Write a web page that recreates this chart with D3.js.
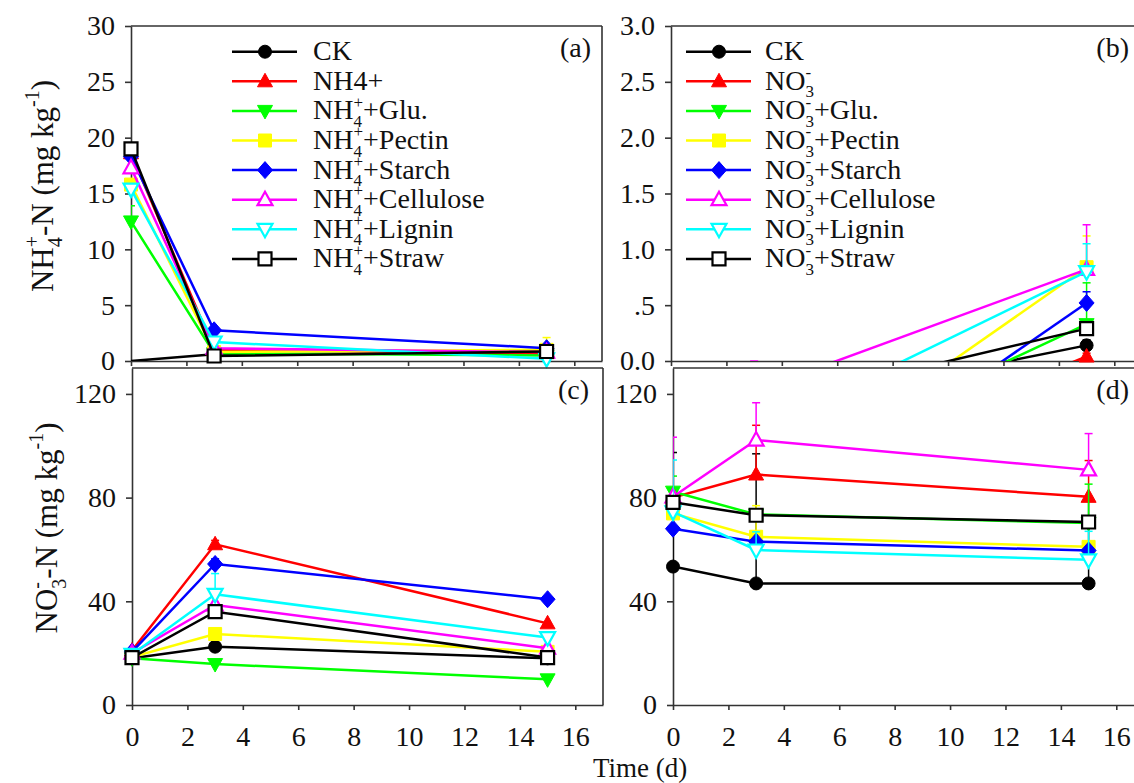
<!DOCTYPE html>
<html><head><meta charset="utf-8">
<script src="https://cdn.jsdelivr.net/npm/d3@7"></script>
<style>
body{margin:0;background:#fff}
svg{display:block}
text{font-family:"Liberation Serif","Times New Roman",serif;fill:#111}
</style>
</head><body>
<svg id="chart" width="1134" height="783"></svg>
<script>
// ---------------- DATA ----------------
const days = [0, 3, 15];
const xTicks = [0, 2, 4, 6, 8, 10, 12, 14, 16];
const seriesColors = ["#000000", "#ff0000", "#00ff00", "#ffff00", "#0000ff", "#ff00ff", "#00ffff", "#000000"];
const seriesShapes = ["circle", "triUp", "triDown", "square", "diamond", "triUp", "triDown", "square"];
const seriesFilled = [true, true, true, true, true, false, false, false];
const suffixes = ["", "", "+Glu.", "+Pectin", "+Starch", "+Cellulose", "+Lignin", "+Straw"];

// Panel (a) NH4+-N, NH4+ treatments (mg kg-1) at days 0, 3, 15
const valuesA = [
  [0, 0.6, 0.7],      // CK
  [18.6, 1.0, 0.7],   // NH4+
  [12.5, 0.7, 0.5],   // +Glu.
  [15.8, 0.8, 1.0],   // +Pectin
  [18.3, 2.75, 1.15], // +Starch
  [17.3, 1.15, 0.8],  // +Cellulose
  [15.4, 1.7, 0.2],   // +Lignin
  [19.0, 0.45, 0.85]  // +Straw
];
const errorsA = [
  [0, 0, 0], [0, 0, 0], [1.4, 0, 0], [0.5, 0, 1.1],
  [0, 0, 0], [0, 0, 0], [0, 0, 0], [0, 0, 0]
];
// Panel (b) NH4+-N, NO3- treatments
const valuesB = [
  [null, -0.46, 0.14], // CK
  [null, -1.16, 0.04], // NO3-
  [null, -1.06, 0.33], // +Glu.
  [null, -1.24, 0.84], // +Pectin
  [null, -1.54, 0.52], // +Starch
  [null, -0.27, 0.82], // +Cellulose
  [null, -0.65, 0.80], // +Lignin
  [null, -0.41, 0.29]  // +Straw
];
const errorsB = [
  [0, 0, 0.05], [0, 0, 0.03], [0, 0, 0.37], [0, 0, 0.28],
  [0, 0, 0.10], [0, 0.27, 0.40], [0, 0, 0.25], [0, 0, 0.06]
];
// Panel (c) NO3--N, NH4+ treatments
const valuesC = [
  [18, 22.5, 18],
  [21, 62, 31.5],
  [18, 15.8, 9.9],
  [18.5, 27.4, 20.5],
  [20.5, 54.4, 40.8],
  [20, 38.6, 21.9],
  [19.5, 42.7, 26],
  [18.3, 36, 18.3]
];
const errorsC = [
  [0, 0, 0], [0, 1.5, 0], [0, 0, 0], [0, 1.5, 0],
  [0, 2, 0], [0, 0, 0], [0, 8, 0], [0, 0, 0]
];
// Panel (d) NO3--N, NO3- treatments
const valuesD = [
  [53.4, 46.9, 46.9],
  [80, 88.9, 80.3],
  [82.3, 73.5, 70.2],
  [73.9, 64.9, 61],
  [68, 63, 59.6],
  [80.3, 102.2, 90.7],
  [74.5, 59.8, 56],
  [78.2, 73.2, 70.6]
];
const errorsD = [
  [44, 50, 33], [0, 19, 14], [6, 0, 15], [0, 12, 0],
  [0, 0, 0], [23, 14.4, 14], [20, 7, 11], [0, 0, 0]
];
const yTicksA = [0, 5, 10, 15, 20, 25, 30];
const yTicksB = [0, 0.5, 1.0, 1.5, 2.0, 2.5, 3.0];
const yTickLabelsB = ["0.0", ".5", "1.0", "1.5", "2.0", "2.5", "3.0"];
const yTicksC = [0, 40, 80, 120];

// ---------------- DRAW ----------------
const svg = d3.select("#chart");
const TICKF = 28, LEG = 28, SMALL = 17;

function symbolPath(shape) {
  switch (shape) {
    case "circle": return "M6.5,0A6.5,6.5 0 1,1 -6.5,0A6.5,6.5 0 1,1 6.5,0Z";
    case "triUp": return "M0,-8L7.5,5.5L-7.5,5.5Z";
    case "triDown": return "M0,8L7.5,-5.5L-7.5,-5.5Z";
    case "square": return "M-6.5,-6.5H6.5V6.5H-6.5Z";
    case "diamond": return "M0,-8.5L7.5,0L0,8.5L-7.5,0Z";
  }
}
function drawMarker(g, i, cx, cy) {
  g.append("path")
    .attr("d", symbolPath(seriesShapes[i]))
    .attr("transform", `translate(${cx},${cy})`)
    .attr("fill", seriesFilled[i] ? seriesColors[i] : "#fff")
    .attr("stroke", seriesColors[i])
    .attr("stroke-width", seriesFilled[i] ? 1 : 2.2);
}

// rich text: base + stacked sub/sup + rest (+ optional second superscript)
function rich(textSel, parts, small) {
  let subW = 0, pendingDx = 0;
  parts.forEach(p => {
    if (!p.t) return;
    const t = textSel.append("tspan").text(p.t);
    if (p.k === "sub") {
      t.attr("font-size", small).attr("dy", small * 0.45);
      subW = t.node().getComputedTextLength();
    } else if (p.k === "supOver") {
      t.attr("font-size", small).attr("dx", -subW).attr("dy", -small * 1.15);
      const supW = t.node().getComputedTextLength();
      pendingDx = Math.max(0, subW - supW);
    } else if (p.k === "sup") {
      t.attr("font-size", small).attr("dy", -small * 0.7);
    } else if (p.k === "back") {
      t.attr("dy", small * 0.7);
    } else if (p.k === "afterStack") {
      t.attr("dy", small * 0.7).attr("dx", pendingDx);
    }
  });
}

function panel(cfg) {
  const g = svg.append("g");
  const x = d3.scaleLinear().domain([0, 17]).range([cfg.L, cfg.L + 471]);
  const y = d3.scaleLinear().domain(cfg.yDomain).range([cfg.B, cfg.T]);
  const R = cfg.L + 471;
  const clipId = "clip-" + cfg.id;
  svg.append("clipPath").attr("id", clipId).append("rect")
    .attr("x", cfg.L).attr("y", cfg.T).attr("width", 471).attr("height", cfg.B - cfg.T);

  // frame (top and right)
  g.append("line").attr("x1", cfg.L).attr("x2", R).attr("y1", cfg.T).attr("y2", cfg.T)
    .attr("stroke", "#333").attr("stroke-width", 1.6);
  g.append("line").attr("x1", R).attr("x2", R).attr("y1", cfg.T).attr("y2", cfg.B)
    .attr("stroke", "#333").attr("stroke-width", 1.6);

  // axes
  const yAx = d3.axisLeft(y).tickValues(cfg.yTicks).tickSize(6).tickSizeOuter(0).tickPadding(10)
    .tickFormat((d, k) => cfg.yLabels ? cfg.yLabels[k] : d);
  const ga = g.append("g").attr("transform", `translate(${cfg.L},0)`).call(yAx);
  const xAx = d3.axisBottom(x).tickValues(xTicks).tickSize(5).tickSizeOuter(0).tickPadding(16);
  if (!cfg.xLabels) xAx.tickFormat(() => "");
  const gb = g.append("g").attr("transform", `translate(0,${cfg.B})`).call(xAx);
  if (!cfg.xLabels) gb.selectAll("text").remove();
  [ga, gb].forEach(a => {
    a.selectAll("path,line").attr("stroke", "#333").attr("stroke-width", 1.6);
    a.selectAll("text").attr("font-size", TICKF).attr("font-family", "Liberation Serif").attr("fill", "#111");
  });

  // series
  const plot = g.append("g");
  const line = d3.line().defined(d => d.v != null).x(d => x(d.day)).y(d => y(d.v));
  cfg.values.forEach((vals, i) => {
    const pts = days.map((d, k) => ({ day: d, v: vals[k], e: cfg.errors[i][k] }));
    const sg = plot.append("g");
    // error bars (upward)
    pts.filter(p => p.v != null && p.e > 0).forEach(p => {
      const eg = sg.append("g").attr("clip-path", `url(#${clipId})`);
      eg.append("line").attr("x1", x(p.day)).attr("x2", x(p.day))
        .attr("y1", y(p.v)).attr("y2", y(p.v + p.e))
        .attr("stroke", seriesColors[i]).attr("stroke-width", 1.5);
      eg.append("line").attr("x1", x(p.day) - 4).attr("x2", x(p.day) + 4)
        .attr("y1", y(p.v + p.e)).attr("y2", y(p.v + p.e))
        .attr("stroke", seriesColors[i]).attr("stroke-width", 1.5);
    });
    sg.append("path").datum(pts).attr("d", line)
      .attr("clip-path", `url(#${clipId})`)
      .attr("fill", "none").attr("stroke", seriesColors[i]).attr("stroke-width", 2.5);
    pts.filter(p => p.v != null && p.v > cfg.yDomain[0] && p.v <= cfg.yDomain[1])
      .forEach(p => drawMarker(sg, i, x(p.day), y(p.v)));
  });

  // legend
  if (cfg.legend) {
    const lg = g.append("g");
    cfg.legend.forEach((parts, i) => {
      const ly = cfg.T + 25.7 + i * 29.6;
      lg.append("line").attr("x1", cfg.L + cfg.legOff[0]).attr("x2", cfg.L + cfg.legOff[1])
        .attr("y1", ly).attr("y2", ly).attr("stroke", seriesColors[i]).attr("stroke-width", 2.5);
      drawMarker(lg, i, cfg.L + cfg.legOff[2], ly);
      const t = lg.append("text").attr("x", cfg.L + cfg.legOff[3]).attr("y", ly + 8.5)
        .attr("font-size", LEG);
      rich(t, parts, SMALL);
    });
  }
  // panel label
  g.append("text").attr("x", cfg.labelX).attr("y", cfg.T + 31).attr("text-anchor", "end")
    .attr("font-size", LEG).text(cfg.label);
}

function legendParts(ion, sub, sup) {
  return suffixes.map((s, i) => {
    if (i === 0) return [{ t: "CK" }];
    if (i === 1 && ion === "NH") return [{ t: "NH4+" }];
    return [{ t: ion }, { t: sub, k: "sub" }, { t: sup, k: "supOver" }, { t: s, k: "afterStack" }];
  });
}

panel({ id: "a", L: 131, T: 26, B: 361, yDomain: [0, 30], yTicks: yTicksA,
  values: valuesA, errors: errorsA, xLabels: false,
  legend: legendParts("NH", "4", "+"), legOff: [101, 166, 134, 182], label: "(a)", labelX: 591 });
panel({ id: "b", L: 671, T: 26, B: 361, yDomain: [0, 3], yTicks: yTicksB, yLabels: yTickLabelsB,
  values: valuesB, errors: errorsB, xLabels: false,
  legend: legendParts("NO", "3", "-"), legOff: [15, 80, 48, 94], label: "(b)", labelX: 1129 });
panel({ id: "c", L: 132, T: 368, B: 705, yDomain: [0, 130], yTicks: yTicksC,
  values: valuesC, errors: errorsC, xLabels: true, label: "(c)", labelX: 589 });
panel({ id: "d", L: 673, T: 368, B: 705, yDomain: [0, 130], yTicks: yTicksC,
  values: valuesD, errors: errorsD, xLabels: true, label: "(d)", labelX: 1129 });

// axis titles
const t1 = svg.append("text").attr("transform", "translate(53,186) rotate(-90)")
  .attr("text-anchor", "middle").attr("font-size", 31);
rich(t1, [{ t: "NH" }, { t: "4", k: "sub" }, { t: "+", k: "supOver" }, { t: "-N (mg kg", k: "afterStack" },
  { t: "-1", k: "sup" }, { t: ")", k: "back" }], 20);
const t2 = svg.append("text").attr("transform", "translate(57,528) rotate(-90)")
  .attr("text-anchor", "middle").attr("font-size", 31);
rich(t2, [{ t: "NO" }, { t: "3", k: "sub" }, { t: "-", k: "supOver" }, { t: "-N (mg kg", k: "afterStack" },
  { t: "-1", k: "sup" }, { t: ")", k: "back" }], 20);
svg.append("text").attr("x", 593).attr("y", 777).attr("font-size", 27).text("Time (d)");
</script>
</body></html>
